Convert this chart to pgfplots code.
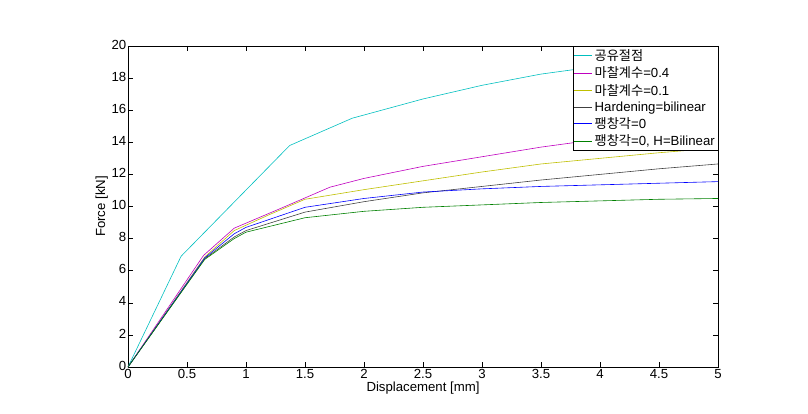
\documentclass[border=0pt]{standalone}
\usepackage{pgfplots}
\pgfplotsset{compat=1.18}
\usepackage{fontspec}
\setmainfont{Liberation Sans}
\newfontfamily\kr{Noto Sans CJK KR}
\definecolor{mc}{rgb}{0,0.75,0.75}
\definecolor{mm}{rgb}{0.75,0,0.75}
\definecolor{my}{rgb}{0.75,0.75,0}
\definecolor{mk}{rgb}{0.25,0.25,0.25}
\definecolor{mb}{rgb}{0,0,1}
\definecolor{mg}{rgb}{0,0.5,0}
\newcommand{\fs}{\fontsize{13.2bp}{15bp}\selectfont}
\begin{document}
\begin{tikzpicture}
\path (-128bp,-47bp) rectangle (680bp,367bp);
\begin{axis}[
  at={(0,0)}, anchor=south west,
  scale only axis, width=590bp, height=321bp,
  xmin=0, xmax=5, ymin=0, ymax=20,
  xtick={0,0.5,...,5}, ytick={0,2,...,20},
  /pgf/number format/assume math mode=true,
  tick label style={font=\fs},
  xticklabel style={inner sep=1bp, yshift=-1.5bp},
  yticklabel style={inner sep=1bp, xshift=-0.5bp, yshift=1.5bp},
  major tick length=5bp,
  tick style={black, line width=0.5pt},
  axis line style={black, line width=0.5pt},
  xlabel={Displacement [mm]},
  ylabel={Force [kN]},
  label style={font=\fs},
  every axis x label/.style={at={(axis description cs:0.5,-0.047)}, anchor=north, inner sep=0pt, font=\fs},
  every axis y label/.style={at={(axis description cs:-0.034,0.5)}, rotate=90, anchor=south, inner sep=0pt, font=\fs},
  legend style={at={(1,1)}, anchor=north east, draw=black, fill=white,
    font=\fs, inner sep=1bp, row sep=1bp,
    line width=0.5pt},
  legend cell align=left,
  legend image code/.code={\draw[#1] (0bp,0bp) -- (18bp,0bp);},
  every axis plot/.append style={line width=0.6pt},
]
\addplot[mc] coordinates {(0,0) (0.45,6.9) (1.37,13.8) (1.9,15.5) (2.5,16.7) (3,17.55) (3.5,18.25) (4,18.75) (4.5,19.3) (5,19.9)};
\addlegendentry{{\kr 공유절점}}
\addplot[mm] coordinates {(0,0) (0.64,6.95) (0.9,8.65) (1.3,9.9) (1.71,11.2) (2,11.75) (2.5,12.5) (3,13.1) (3.5,13.7) (4,14.2) (4.5,14.7) (5,15.2)};
\addlegendentry{{\kr 마찰계수}=0.4}
\addplot[my] coordinates {(0,0) (0.65,6.85) (0.9,8.5) (1.2,9.5) (1.5,10.45) (2,11.05) (2.5,11.6) (3,12.15) (3.5,12.65) (4,13.0) (4.5,13.35) (5,13.65)};
\addlegendentry{{\kr 마찰계수}=0.1}
\addplot[mk] coordinates {(0,0) (0.65,6.75) (0.9,8.1) (1,8.5) (1.5,9.65) (2,10.3) (2.5,10.85) (3,11.25) (3.5,11.65) (4,12.0) (4.5,12.35) (5,12.65)};
\addlegendentry{Hardening=bilinear}
\addplot[mb] coordinates {(0,0) (0.65,6.8) (0.9,8.3) (1,8.7) (1.5,9.95) (2,10.5) (2.5,10.9) (3,11.1) (3.5,11.25) (4,11.35) (4.5,11.45) (5,11.55)};
\addlegendentry{{\kr 팽창각}=0}
\addplot[mg] coordinates {(0,0) (0.65,6.7) (0.9,8.0) (1,8.4) (1.5,9.3) (2,9.7) (2.5,9.95) (3,10.1) (3.5,10.25) (4,10.35) (4.5,10.45) (5,10.5)};
\addlegendentry{{\kr 팽창각}=0, H=Bilinear}
\end{axis}
\end{tikzpicture}
\end{document}
